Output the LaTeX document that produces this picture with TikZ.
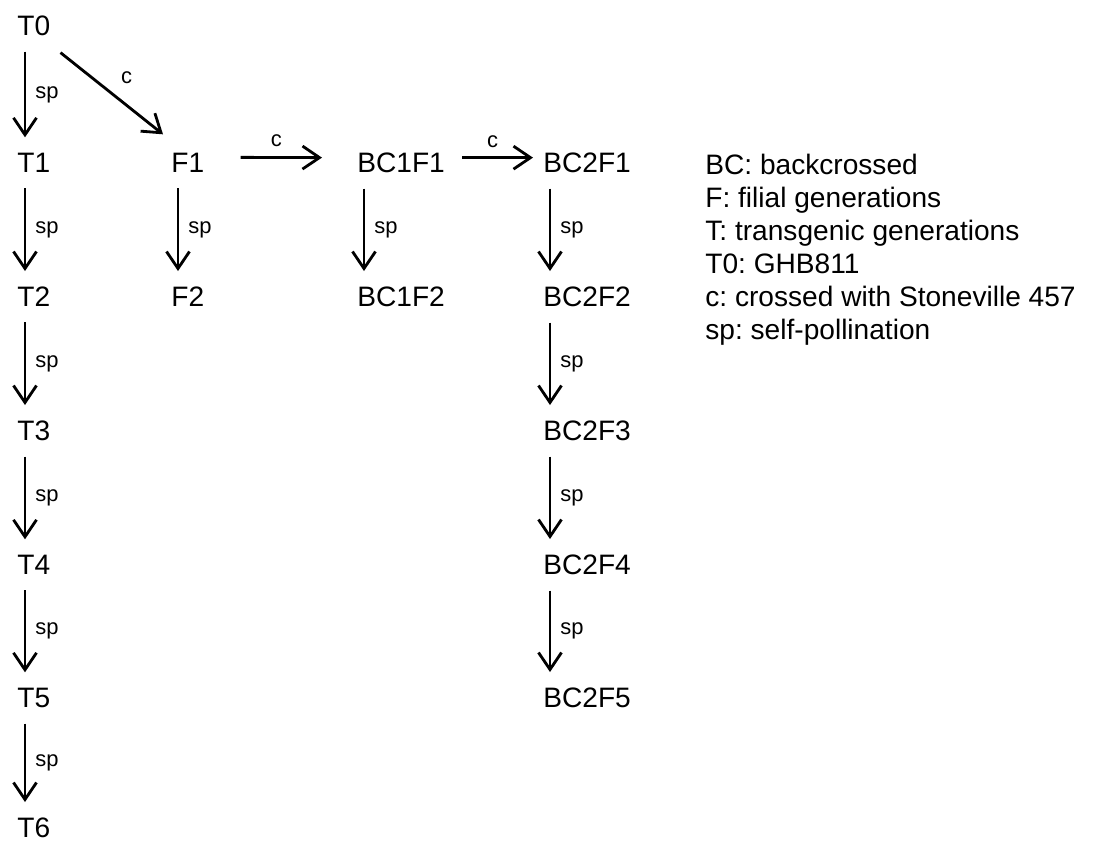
\documentclass[tikz,border=0pt]{standalone}
\usepackage{fontspec}
\setmainfont{Liberation Sans}
\usetikzlibrary{arrows.meta}
\newcommand{\gensize}{\fontsize{16}{18.8}\selectfont}
\newcommand{\lblsize}{\fontsize{12.5}{14}\selectfont}
\frenchspacing
\begin{document}
\begin{tikzpicture}[x=0.02cm, y=-0.02cm,
  gen/.style = {anchor=base west, inner sep=0pt, font=\gensize},
  cross/.style = {line width=1.6pt, -{Straight Barb[length=3.4mm, width=4.6mm]}},
  selfpol/.style = {cross},
  splbl/.style = {font=\lblsize, inner sep=0pt, midway, anchor=west, xshift=0.18cm},
  clbl/.style = {font=\lblsize, inner sep=0pt, midway, above=0.18cm, xshift=-0.1cm}]
    \useasboundingbox (0,0) rectangle (1095,843);
    % transgenic line
    \node[gen] (T0) at (17,35) {T0};
    \node[gen] (T1) at (17,172) {T1};
    \node[gen] (T2) at (17,306) {T2};
    \node[gen] (T3) at (17,440) {T3};
    \node[gen] (T4) at (17,574) {T4};
    \node[gen] (T5) at (17,707) {T5};
    \node[gen] (T6) at (17,837) {T6};
    % filial and backcrossed lines
    \node[gen] (F1) at (171,172) {F1};
    \node[gen] (F2) at (171,306) {F2};
    \node[gen] (BC1F1) at (357,172) {BC1F1};
    \node[gen] (BC1F2) at (357,306) {BC1F2};
    \node[gen] (BC2F1) at (543,172) {BC2F1};
    \node[gen] (BC2F2) at (543,306) {BC2F2};
    \node[gen] (BC2F3) at (543,440) {BC2F3};
    \node[gen] (BC2F4) at (543,574) {BC2F4};
    \node[gen] (BC2F5) at (543,707) {BC2F5};
    % legend
    \node[anchor=north west, inner sep=0pt, align=left, font=\gensize] (legend) at (705,154)
        {BC: backcrossed\\F: filial generations\\T: transgenic generations\\T0: GHB811\\c: crossed with Stoneville 457\\sp: self-pollination};
    % self-pollination
    \draw[selfpol] ([shift={(8,16)}]T0.south west) -- node[splbl] {sp} ([shift={(8,-15)}]T1.north west);
    \draw[selfpol] ([shift={(8,16)}]T1.south west) -- node[splbl] {sp} ([shift={(8,-15)}]T2.north west);
    \draw[selfpol] ([shift={(8,16)}]T2.south west) -- node[splbl] {sp} ([shift={(8,-15)}]T3.north west);
    \draw[selfpol] ([shift={(8,16)}]T3.south west) -- node[splbl] {sp} ([shift={(8,-15)}]T4.north west);
    \draw[selfpol] ([shift={(8,16)}]T4.south west) -- node[splbl] {sp} ([shift={(8,-15)}]T5.north west);
    \draw[selfpol] ([shift={(8,16)}]T5.south west) -- node[splbl] {sp} ([shift={(8,-15)}]T6.north west);
    \draw[selfpol] ([shift={(7,16)}]F1.south west) -- node[splbl] {sp} ([shift={(7,-15)}]F2.north west);
    \draw[selfpol] ([shift={(7,16)}]BC1F1.south west) -- node[splbl] {sp} ([shift={(7,-15)}]BC1F2.north west);
    \draw[selfpol] ([shift={(7,16)}]BC2F1.south west) -- node[splbl] {sp} ([shift={(7,-15)}]BC2F2.north west);
    \draw[selfpol] ([shift={(7,16)}]BC2F2.south west) -- node[splbl] {sp} ([shift={(7,-15)}]BC2F3.north west);
    \draw[selfpol] ([shift={(7,16)}]BC2F3.south west) -- node[splbl] {sp} ([shift={(7,-15)}]BC2F4.north west);
    \draw[selfpol] ([shift={(7,16)}]BC2F4.south west) -- node[splbl] {sp} ([shift={(7,-15)}]BC2F5.north west);
    % crosses
    \draw[cross] ([shift={(10,17)}]T0.south east) -- node[font=\lblsize, inner sep=0pt, midway, above right=0.16cm] {c} ([shift={(-8,-18)}]F1.north west);
    \draw[cross] ([shift={(36,-15)}]F1.south east) -- node[clbl] {c} ([shift={(-35,-15)}]BC1F1.south west);
    \draw[cross] ([shift={(17,-15)}]BC1F1.south east) -- node[clbl] {c} ([shift={(-10,-15)}]BC2F1.south west);
\end{tikzpicture}
\end{document}
